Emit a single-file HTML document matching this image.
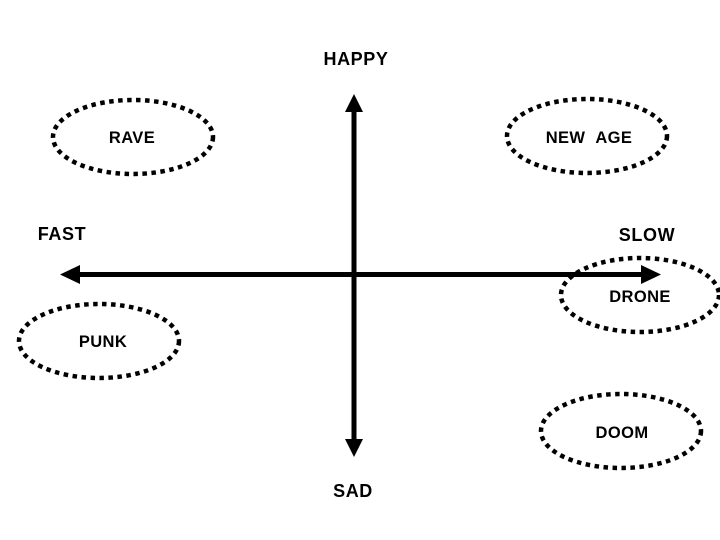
<!DOCTYPE html>
<html><head><meta charset="utf-8"><style>
html,body{margin:0;padding:0;background:#fff;}
svg{display:block;}
text{font-family:"Liberation Sans",Arial,sans-serif;font-weight:bold;fill:#000;}
</style></head><body>
<svg width="720" height="540" viewBox="0 0 720 540" xmlns="http://www.w3.org/2000/svg">
<g fill="none" stroke="#000" stroke-width="4.5" stroke-dasharray="4.5 4.5">
<ellipse cx="133" cy="137" rx="80" ry="37"/>
<ellipse cx="587" cy="136" rx="80" ry="37"/>
<ellipse cx="99" cy="341" rx="80" ry="37"/>
<ellipse cx="640" cy="295" rx="79" ry="37"/>
<ellipse cx="621" cy="431" rx="80" ry="37"/>
</g>
<g stroke="#000" stroke-width="5">
<line x1="78" y1="274.5" x2="645" y2="274.5"/>
<line x1="354" y1="110" x2="354" y2="442"/>
</g>
<g fill="#000">
<polygon points="60,274.5 80,265 80,284"/>
<polygon points="661,274.5 641,265 641,284"/>
<polygon points="354,94 345,112 363,112"/>
<polygon points="354,457 345,439 363,439"/>
</g>
<g font-size="18" text-anchor="middle" letter-spacing="0.6">
<text x="356" y="65">HAPPY</text>
<text x="353" y="497">SAD</text>
<text x="62" y="240">FAST</text>
<text x="647" y="241">SLOW</text>
</g>
<g font-size="16.5" text-anchor="middle" letter-spacing="0.4">
<text x="132" y="143">RAVE</text>
<text x="589" y="143">NEW&#160;&#160;AGE</text>
<text x="103" y="347">PUNK</text>
<text x="640" y="302">DRONE</text>
<text x="622" y="438">DOOM</text>
</g>
</svg>
</body></html>
